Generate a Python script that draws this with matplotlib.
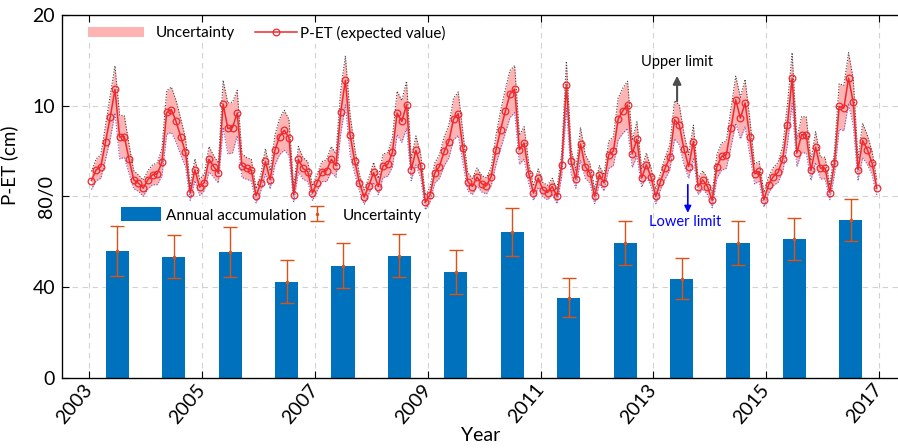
import numpy as np
import matplotlib
matplotlib.use('Agg')
import matplotlib.pyplot as plt
from matplotlib.patches import Patch
from matplotlib.lines import Line2D

plt.rcParams['font.family'] = ['Lato', 'DejaVu Sans']

# annual accumulation (cm) per year, with uncertainty
years = np.arange(2003, 2017)
annual = [56.1, 53.5, 55.7, 42.5, 49.5, 53.9, 46.8, 64.4, 35.4, 59.6, 43.8, 59.6, 61.3, 69.6]
annual_err = [11.0, 9.6, 11.0, 9.3, 10.0, 9.4, 9.6, 10.6, 8.7, 9.6, 8.9, 9.6, 9.1, 9.4]

# monthly P-ET (cm), Jan 2003 .. Dec 2016
pet = [
    1.76, 2.94, 3.3, 6.0, 8.75, 11.8, 6.55, 6.6, 4.1, 1.84, 1.47, 0.92,
    1.84, 2.4, 2.5, 3.8, 9.26, 9.56, 8.27, 6.55, 4.85, 0.37, 2.94, 1.03,
    1.54, 4.1, 3.3, 2.58, 10.2, 7.5, 7.6, 9.2, 3.4, 3.1, 2.9, 0.08,
    1.47, 3.86, 1.84, 5.07, 6.6, 7.3, 6.5, 0.19, 4.1, 3.1, 2.74, 0.37,
    1.54, 2.74, 2.85, 4.1, 3.4, 9.26, 12.8, 6.8, 3.86, 1.47, -0.07, 1.18,
    2.65, 1.1, 3.38, 3.53, 4.85, 9.2, 8.27, 10.1, 2.94, 5.07, 3.38, -0.66,
    0.19, 2.58, 3.3, 4.96, 6.06, 8.53, 9.12, 5.33, 1.65, 1.1, 2.14, 1.4,
    1.18, 2.2, 5.07, 7.35, 9.37, 11.29, 11.84, 5.15, 5.89, 2.5, 0.37, 2.03,
    0.74, 0.44, 1.1, 0.0, 3.5, 12.3, 3.86, 1.92, 5.8, 3.3, 2.58, 0.0,
    2.4, 1.5, 4.6, 5.0, 8.53, 9.45, 10.1, 4.7, 6.33, 2.03, 3.5, 2.14,
    0.0, 1.65, 3.13, 4.34, 8.46, 7.9, 5.22, 3.3, 6.06, 1.1, 1.84, 1.1,
    -0.44, 3.3, 4.41, 4.6, 7.54, 10.66, 8.64, 10.3, 6.55, 2.5, 2.76, -0.36,
    1.29, 2.2, 2.65, 4.12, 7.9, 13.05, 4.78, 6.8, 6.8, 2.87, 5.44, 3.13,
    3.13, 0.44, 3.68, 9.92, 9.74, 13.05, 10.36, 2.94, 6.17, 5.15, 3.68, 0.92,
]
# half width of the uncertainty band (cm)
pet_unc = [
    1.0, 1.2, 1.3, 1.9, 2.4, 2.6, 2.4, 2.3, 1.6, 1.0, 0.9, 0.9,
    1.0, 1.1, 1.2, 1.5, 2.4, 2.5, 2.3, 2.0, 1.6, 0.8, 1.2, 0.9,
    0.9, 1.4, 1.2, 1.1, 2.6, 2.8, 2.8, 2.5, 1.3, 1.2, 1.2, 0.8,
    0.9, 1.4, 1.0, 1.6, 2.0, 2.2, 2.0, 0.8, 1.4, 1.2, 1.1, 0.8,
    0.9, 1.1, 1.2, 1.4, 1.3, 2.4, 2.7, 2.2, 1.4, 0.9, 0.8, 0.9,
    1.1, 0.9, 1.3, 1.3, 1.6, 2.4, 2.3, 2.6, 1.2, 1.6, 1.3, 0.8,
    0.8, 1.1, 1.3, 1.6, 1.8, 2.3, 2.4, 1.7, 1.0, 0.9, 1.0, 0.9,
    0.9, 1.0, 1.6, 2.1, 2.4, 2.6, 2.6, 1.6, 1.8, 1.1, 0.8, 1.0,
    0.8, 0.8, 0.9, 0.8, 1.3, 2.6, 1.4, 1.0, 1.8, 1.3, 1.1, 0.8,
    1.0, 0.9, 1.5, 1.6, 2.3, 2.5, 2.6, 1.5, 1.9, 1.0, 1.3, 1.0,
    0.8, 0.9, 1.2, 1.4, 2.1, 2.2, 1.7, 1.3, 1.8, 0.9, 1.0, 0.9,
    0.8, 1.3, 1.5, 1.5, 2.1, 2.6, 2.3, 2.6, 2.0, 1.1, 1.1, 0.8,
    0.9, 1.0, 1.1, 1.4, 2.2, 2.8, 1.5, 2.0, 2.0, 1.1, 1.7, 1.2,
    1.2, 0.8, 1.3, 2.5, 2.5, 2.8, 2.6, 1.2, 1.9, 1.6, 1.3, 0.9,
]

ytick_labels = ['0', '40', '80/0', '10', '20']
xticks = np.arange(2003, 2018, 2)

pet = np.array(pet)
pet_unc = np.array(pet_unc)
t = 2003 + (np.arange(len(pet)) + 0.5) / 12.0

fig = plt.figure(figsize=(8.98, 4.48), dpi=100)
ax = fig.add_axes([62 / 898, 1 - 378 / 448, (900 - 62) / 898, (378 - 15) / 448])
ax.set_xlim(2002.52, 2017.37)
ax.set_ylim(0, 160)
ax.set_axisbelow(True)
ax.grid(True, ls=(0, (5, 4)), color='#d2d2d2', lw=0.8)

# lower half: annual bars
ax.bar(years + 0.5, annual, width=0.41, color='#0072BD', zorder=2)
eb = ax.errorbar(years + 0.5, annual, yerr=annual_err, fmt='.', ms=3, color='#D95319',
                 elinewidth=1, capsize=5, capthick=1, zorder=3)

ax.set_xticks(xticks)
ax.set_xticklabels([str(x) for x in xticks], rotation=50, ha='right', va='center',
                   rotation_mode='anchor')
ax.set_yticks([0, 40, 80, 120, 160])
ax.set_yticklabels(ytick_labels)
ax.get_yticklabels()[2].set_rotation(90)
ax.get_yticklabels()[2].set_va('center')
ax.tick_params(direction='in', length=5, width=0.8, top=True, labelsize=14)
ax.tick_params(axis='x', pad=6)
ax.tick_params(axis='y', pad=5)
for s in ax.spines.values():
    s.set_linewidth(0.9)

ax.set_ylabel('P-ET (cm)', fontsize=13.5)
ax.yaxis.set_label_coords(-0.0525, 0.587)
ax.set_xlabel('Year', fontsize=14)
ax.xaxis.set_label_coords(0.4994, -0.135)

ax.legend([Patch(fc='#0072BD', ec='none'), eb], ['Annual accumulation', 'Uncertainty'],
          loc='center left', bbox_to_anchor=(0.067, 0.449), ncol=2, fontsize=11,
          handlelength=2.6, handleheight=1.0, handletextpad=0.35, columnspacing=-0.6,
          frameon=True, facecolor='white', edgecolor='none', framealpha=1,
          borderpad=0.2, borderaxespad=0)

# upper half: monthly P-ET on its own scale
ax2 = ax.twinx()
ax2.set_ylim(-20, 20)
ax2.tick_params(right=False, labelright=False)
ax2.fill_between(t, pet - pet_unc, pet + pet_unc, color='#FFB3B3', lw=0, zorder=1)
ax2.plot(t, pet + pet_unc, ls=(0, (1, 1.5)), color='0.25', lw=0.8, zorder=2)
ax2.plot(t, pet - pet_unc, ls=(0, (1, 1.5)), color='#6a5acd', lw=0.8, zorder=2)
ax2.plot(t, pet, '-o', color='#F0282D', lw=1.1, ms=4.8, mfc='none', mew=0.9, zorder=3)

leg_a = ax2.legend([Patch(fc='#FFB3B3', ec='none')], ['Uncertainty'],
                   loc='center left', bbox_to_anchor=(0.027, 0.95), fontsize=11,
                   handlelength=3.7, handleheight=0.6, handletextpad=0.78,
                   frameon=True, facecolor='white', edgecolor='none', framealpha=1,
                   borderpad=0.2, borderaxespad=0)
ax2.add_artist(leg_a)
ax2.legend([Line2D([], [], color='#F0282D', lw=1.1, marker='o', ms=4.8, mfc='none', mew=0.9)],
           ['P-ET (expected value)'],
           loc='center left', bbox_to_anchor=(0.227, 0.95), fontsize=11,
           handlelength=2.75, handletextpad=0.15,
           frameon=True, facecolor='white', edgecolor='none', framealpha=1,
           borderpad=0.2, borderaxespad=0)

ax2.annotate('', xy=(2013.42, 13.3), xytext=(2013.42, 10.5),
             arrowprops=dict(arrowstyle='-|>', color='0.3', lw=1.5, mutation_scale=12,
                             shrinkA=0, shrinkB=0))
ax2.text(2013.42, 14.85, 'Upper limit', ha='center', va='center', fontsize=10.5)
ax2.annotate('', xy=(2013.61, -1.8), xytext=(2013.61, 1.3),
             arrowprops=dict(arrowstyle='-|>', color='blue', lw=1.2, mutation_scale=10,
                             shrinkA=0, shrinkB=0))
ax2.text(2013.56, -2.8, 'Lower limit', ha='center', va='center', fontsize=10.5, color='blue')

fig.savefig('out.png', dpi=100)
